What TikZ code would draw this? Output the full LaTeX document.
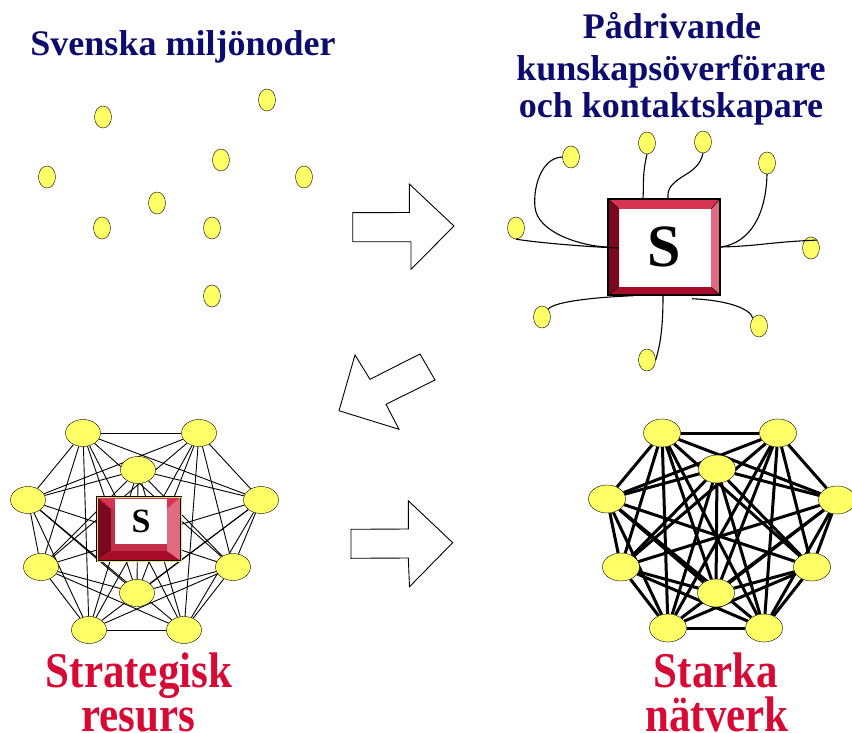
\documentclass[tikz,border=0pt]{standalone}
\usepackage{fontspec}
\setmainfont{Liberation Serif}
\usepackage{xcolor}
\usetikzlibrary{shapes.geometric,calc,backgrounds}
\definecolor{navytitle}{RGB}{12,12,110}
\definecolor{redtitle}{RGB}{214,10,52}
\definecolor{nodeyellow}{RGB}{255,255,102}
\definecolor{boxyellow}{RGB}{232,222,96}
\definecolor{toppink}{RGB}{214,52,82}
\definecolor{leftdark}{RGB}{122,8,30}
\definecolor{rightpink}{RGB}{224,106,128}
\definecolor{bottomred}{RGB}{168,12,42}
\newcommand{\narrow}[1]{\scalebox{0.86}[1]{#1}}
% edges of the two networks
\def\netedges{tl/tr, tl/r, tl/lr, tl/br, tl/bl, tl/ll, tl/l, tr/r, tr/lr, tr/br, tr/bl, tr/ll, tr/l, r/lr, r/br, r/bl, r/ll, lr/br, lr/bl, lr/l, br/bl, br/ll, br/l, bl/ll, bl/l, ll/l, ct/l, ct/r, ct/ll, ct/lr, ct/bl, ct/br, ct/bc, bc/tl, bc/tr, bc/l, bc/r, bc/ll, bc/lr}

\begin{document}
\begin{tikzpicture}[x=1pt, y=-1pt,
  ydot/.style={ellipse, draw, fill=nodeyellow, minimum width=17pt, minimum height=22pt, inner sep=0pt},
  bignode/.style={ellipse, draw, fill=nodeyellow, minimum width=35pt, minimum height=27pt, inner sep=0pt},
  navytext/.style={text=navytitle, font=\fontsize{36}{39}\selectfont\bfseries, anchor=base, inner sep=0pt},
  redtext/.style={text=redtitle, font=\fontsize{50}{50}\selectfont\bfseries, anchor=base, inner sep=0pt},
  bigarrow/.style={draw, fill=white, line width=0.9pt},
  wire/.style={line width=1.1pt}]
\useasboundingbox (0,0) rectangle (852,733);

% Titles
\node[navytext] (miljo) at (183,56) {Svenska miljönoder};
\node[navytext] (padr1) at (672,39) {Pådrivande};
\node[navytext] (padr2) at (671,81) {kunskapsöverförare};
\node[navytext] (padr3) at (671,118) {och kontaktskapare};
\node[redtext] (strat1) at (139,687) {\narrow{Strategisk}};
\node[redtext] (strat2) at (138,731) {\narrow{resurs}};
\node[redtext] (stark1) at (716,687) {\narrow{Starka}};
\node[redtext] (stark2) at (717,731) {\narrow{nätverk}};

% Points
\foreach \n/\x/\y in {1/103/117, 2/267/100, 3/221/160, 4/47/177, 5/304/177, 6/157/203, 7/102/228, 8/212/228, 9/212/296}
  \node[ydot] (m\n) at (\x,\y) {};

% Arrows
\draw[bigarrow] (352.7,212.7) -- (409.3,212.5) -- (409.3,184) -- (454,226) -- (411,269.3) -- (411,241.7) -- (352.7,241.7) -- cycle;
\draw[bigarrow] (420,354) -- (435,380) -- (386,404.3) -- (399,429.3) -- (339,410.7) -- (355,355) -- (370,379.3) -- cycle;
\draw[bigarrow] (351,529.3) -- (408.3,529) -- (408.3,500.7) -- (452.7,542.7) -- (409.5,586.7) -- (408.3,558) -- (351,558.3) -- cycle;

% S box, large
\fill[white] (619,209) rectangle (711,287);
\fill[toppink] (608,199) -- (720,199) -- (711,209) -- (619,209) -- cycle;
\fill[leftdark] (608,199) -- (619,209) -- (619,287) -- (608,295) -- cycle;
\fill[rightpink] (720,199) -- (720,295) -- (711,287) -- (711,209) -- cycle;
\fill[bottomred] (608,295) -- (619,287) -- (711,287) -- (720,295) -- cycle;
\draw[line width=0.5pt] (608,199) -- (619,209) (720,199) -- (711,209) (608,295) -- (619,287) (720,295) -- (711,287);
\node[draw, line width=1.5pt, minimum width=112pt, minimum height=96pt, inner sep=0pt, font=\fontsize{60}{60}\selectfont\bfseries] (sbig) at (664,247) {S};

% Contacts
\foreach \n/\x/\y in {1/571/157, 2/516/228, 3/647/143, 4/703/142, 5/767/163, 6/811/248, 7/542/317, 8/647/360, 9/759/326}
  \node[ydot] (k\n) at (\x,\y) {};
\draw[wire] (k1.west) .. controls (540,158) and (533,190) .. (535,207) .. controls (537,232) and (580,246) .. (sbig.west);
\draw[wire] (k2.south) .. controls (540,243) and (590,247) .. ($(sbig.west)+(11,1)$);
\draw[wire] (k3.south) .. controls (642,175) and (644,185) .. ($(sbig.north)+(-21,0)$);
\draw[wire] (k4.south) .. controls (699,172) and (682,174) .. (673,184) .. controls (667,190) and (668,195) .. ($(sbig.north)+(4,0)$);
\draw[wire] (k5.south) .. controls (766,215) and (750,243) .. (sbig.east);
\draw[wire] (sbig.east) .. controls (760,246) and (770,242) .. (k6.north east);
\draw[wire] (k7.north east) .. controls (555,301) and (600,297) .. ($(sbig.south)+(-31,0)$);
\draw[wire] (k8.east) .. controls (660,345) and (663,330) .. ($(sbig.south)+(-1,0)$);
\coordinate (w9) at ($(sbig.south)+(28,3)$);
\draw[wire] (w9) .. controls (725,300) and (750,308) .. (k9.north west);

% Strategisk resurs
\foreach \n/\x/\y in {tl/83/433, tr/199/433, ct/138/470, l/28/500, r/261/500, ll/41/567, lr/233/567, bc/137/593, bl/89/630, br/184/630}
  \node[bignode] (a\n) at (\x,\y) {};
\begin{pgfonlayer}{background}
\foreach \p/\q in \netedges
  \draw[line width=0.9pt] (a\p) -- (a\q);
\end{pgfonlayer}
\fill[toppink] (97,497) -- (181,497) -- (167,509) -- (111,509) -- cycle;
\fill[leftdark] (97,497) -- (111,509) -- (111,551) -- (97,561) -- cycle;
\fill[rightpink] (181,497) -- (181,561) -- (167,551) -- (167,509) -- cycle;
\fill[bottomred] (97,561) -- (111,551) -- (167,551) -- (181,561) -- cycle;
\fill[toppink!90!black] (111,509) rectangle (167,551);
\node[fill=white, minimum width=52pt, minimum height=45pt, inner sep=0pt, font=\fontsize{34}{34}\selectfont\bfseries] (ssmall) at (141,521) {S};
\draw[line width=2.8pt] (97,497) rectangle (181,561);
\draw[boxyellow, line width=1pt] (97,497) rectangle (181,561);

% Starka natverk
\foreach \n/\x/\y in {tl/662/433, tr/778/433, ct/717/469, l/607/499, r/837/500, ll/621/567, lr/812/567, bc/716/593, bl/668/628, br/764/628}
  \node[bignode, minimum width=37pt, minimum height=28pt] (b\n) at (\x,\y) {};
\begin{pgfonlayer}{background}
\foreach \p/\q in \netedges
  \draw[line width=3pt] (b\p) -- (b\q);
\end{pgfonlayer}
\end{tikzpicture}
\end{document}
